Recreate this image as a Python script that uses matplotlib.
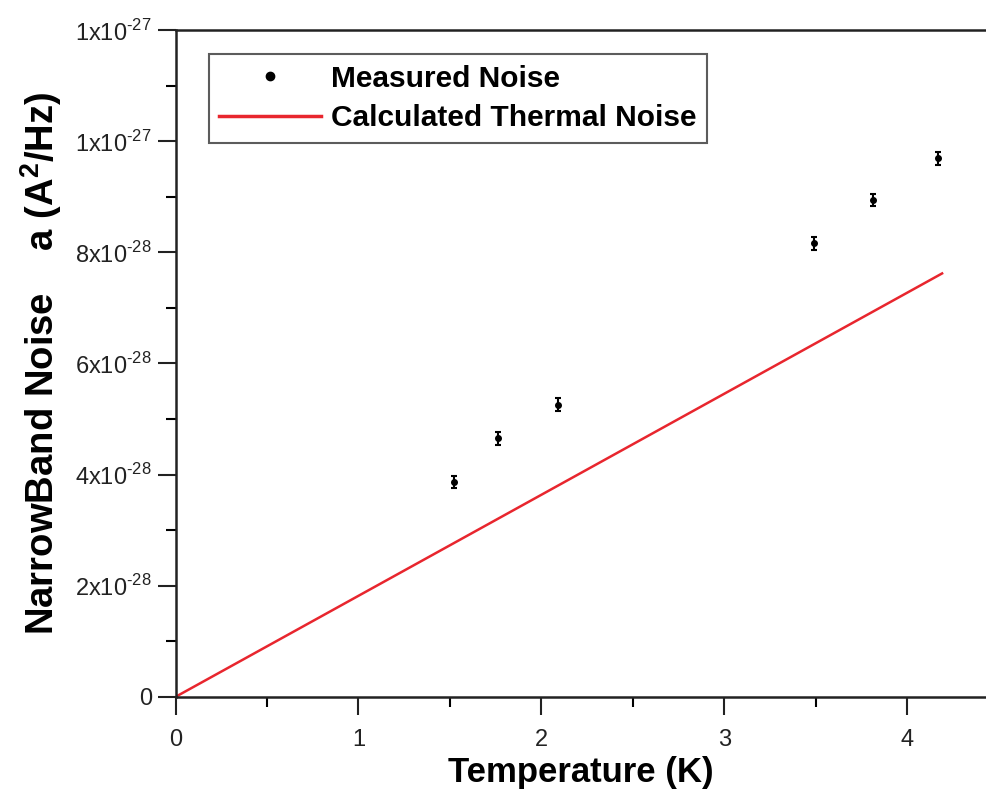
import matplotlib
matplotlib.use("Agg")
import matplotlib.pyplot as plt
from matplotlib.lines import Line2D
from matplotlib.ticker import FixedLocator, FixedFormatter, MultipleLocator

# measured narrowband noise
temperature = [1.52, 1.76, 2.09, 3.49, 3.81, 4.17]
noise = [3.86e-28, 4.65e-28, 5.26e-28, 8.16e-28, 8.94e-28, 9.69e-28]
noise_err = [0.11e-28, 0.11e-28, 0.11e-28, 0.11e-28, 0.11e-28, 0.11e-28]

# calculated thermal noise (straight line through origin)
thermal_t = [0.0, 4.19]
thermal_noise = [0.0, 7.62e-28]

ytick_vals = [0, 2e-28, 4e-28, 6e-28, 8e-28, 1.0e-27, 1.2e-27]
ytick_labels = ["0", r"2x10$^{\text{-28}}$", r"4x10$^{\text{-28}}$", r"6x10$^{\text{-28}}$",
                r"8x10$^{\text{-28}}$", r"1x10$^{\text{-27}}$", r"1x10$^{\text{-27}}$"]

plt.rcParams['font.family'] = ['Liberation Sans', 'DejaVu Sans']
plt.rcParams['mathtext.fontset'] = 'custom'
plt.rcParams['mathtext.rm'] = 'Liberation Sans'
plt.rcParams['mathtext.bf'] = 'Liberation Sans:bold'

fig = plt.figure(figsize=(9.86, 8.01), dpi=100)
ax = fig.add_axes([0.178, 0.130, 0.822, 0.8325])

ax.errorbar(temperature, noise, yerr=noise_err, fmt='o', color='black',
            markersize=4, elinewidth=1.5, capsize=2.5, capthick=1.5)
ax.plot(thermal_t, thermal_noise, color='#e8262e', linewidth=1.8)

ax.set_xlim(0, 4.43)
ax.set_ylim(0, 1.2e-27)
ax.xaxis.set_major_locator(FixedLocator([0, 1, 2, 3, 4]))
ax.xaxis.set_minor_locator(MultipleLocator(0.5))
ax.yaxis.set_major_locator(FixedLocator(ytick_vals))
ax.yaxis.set_major_formatter(FixedFormatter(ytick_labels))
ax.yaxis.set_minor_locator(MultipleLocator(1e-28))

ax.tick_params(which='major', direction='out', length=13, width=1.5, labelsize=17,
               colors='#222222', pad=4)
ax.tick_params(which='minor', direction='out', length=7, width=1.5)
ax.tick_params(axis='x', which='major', pad=10)
ax.spines['right'].set_visible(False)
for s in ['left', 'bottom', 'top']:
    ax.spines[s].set_linewidth(1.8)
    ax.spines[s].set_color('#222222')

ax.set_xlabel('Temperature (K)', fontsize=25, fontweight='bold', labelpad=4)
ax.set_ylabel(r'NarrowBand Noise    a (A$^\mathbf{2}$/Hz)', fontsize=27.5, fontweight='bold', labelpad=8)

handles = [
    Line2D([], [], marker='o', linestyle='none', color='black', markersize=6),
    Line2D([], [], color='#e8262e', linewidth=2.5),
]
labels = ['Measured Noise', 'Calculated Thermal Noise']
leg = ax.legend(handles, labels, loc='upper left', bbox_to_anchor=(0.03, 0.977),
                prop={'weight': 'bold', 'size': 21.5}, frameon=True, fancybox=False,
                edgecolor='#333333', handlelength=3.4, handletextpad=0.35,
                borderpad=0.35, labelspacing=0.38, borderaxespad=0.3)
leg.get_frame().set_linewidth(1.5)

fig.savefig('out.png', dpi=100)
